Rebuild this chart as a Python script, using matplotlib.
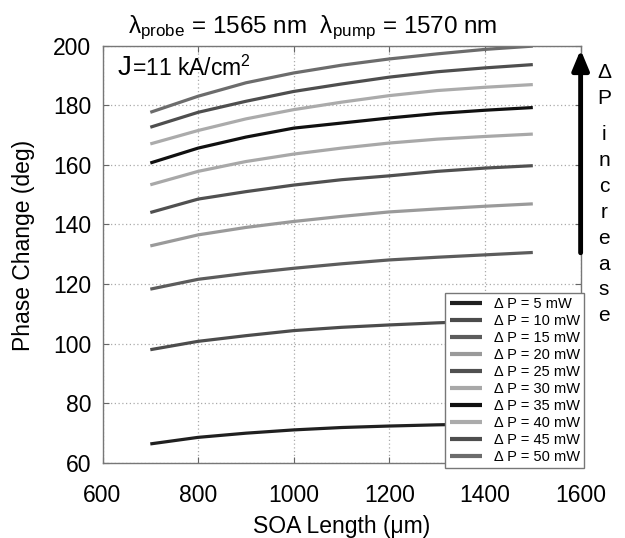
import matplotlib
matplotlib.use("Agg")
import matplotlib.pyplot as plt

plt.rcParams['font.family'] = ['Liberation Sans', 'DejaVu Sans']
plt.rcParams['mathtext.fontset'] = 'custom'
plt.rcParams['mathtext.rm'] = 'Liberation Sans'
plt.rcParams['mathtext.it'] = 'Liberation Sans:italic'
plt.rcParams['mathtext.bf'] = 'Liberation Sans:bold'

# ---- data ----
soa_length = [700, 800, 900, 1000, 1100, 1200, 1300, 1400, 1500]
p5 = [66.4, 68.6, 70.0, 71.1, 71.9, 72.4, 72.8, 73.1, 73.3]
p10 = [98.0, 100.8, 102.7, 104.4, 105.5, 106.3, 107.0, 107.6, 108.1]
p15 = [118.3, 121.6, 123.6, 125.3, 126.8, 128.1, 129.0, 129.8, 130.6]
p20 = [132.8, 136.5, 139.0, 141.0, 142.7, 144.2, 145.2, 146.1, 146.9]
p25 = [144.0, 148.5, 151.0, 153.2, 155.0, 156.3, 157.8, 158.9, 159.7]
p30 = [153.3, 157.8, 161.1, 163.6, 165.6, 167.3, 168.6, 169.5, 170.3]
p35 = [160.6, 165.6, 169.3, 172.3, 174.0, 175.7, 177.2, 178.3, 179.2]
p40 = [167.0, 171.5, 175.4, 178.5, 181.0, 183.2, 184.9, 186.0, 186.9]
p45 = [172.6, 177.6, 181.3, 184.6, 187.1, 189.4, 191.2, 192.5, 193.6]
p50 = [177.6, 183.0, 187.5, 190.8, 193.4, 195.5, 197.2, 198.7, 199.8]
series = [p5, p10, p15, p20, p25, p30, p35, p40, p45, p50]
labels = ['Δ P = 5 mW', 'Δ P = 10 mW', 'Δ P = 15 mW', 'Δ P = 20 mW', 'Δ P = 25 mW',
          'Δ P = 30 mW', 'Δ P = 35 mW', 'Δ P = 40 mW', 'Δ P = 45 mW', 'Δ P = 50 mW']
colors = ['#202020', '#4c4c4c', '#5c5c5c', '#9a9a9a', '#505050',
          '#a8a8a8', '#101010', '#ababab', '#4e4e4e', '#6c6c6c']
xticks = [600, 800, 1000, 1200, 1400, 1600]
yticks = [60, 80, 100, 120, 140, 160, 180, 200]

fig = plt.figure(figsize=(6.25, 5.38), dpi=100)
ax = fig.add_axes([0.164, 0.1394, 0.765, 0.776])

for ys, lab, col in zip(series, labels, colors):
    ax.plot(soa_length, ys, color=col, lw=2.3, label=lab, solid_capstyle='butt')

ax.set_xlim(600, 1600)
ax.set_ylim(60, 200)
ax.set_xticks(xticks)
ax.set_yticks(yticks)
ax.grid(True, linestyle=(0, (1, 2)), color='#aaaaaa', lw=0.9)
ax.tick_params(direction='in', length=4, labelsize=16.5, top=True, right=True,
               color='#666666')
ax.tick_params(axis='x', pad=15)
ax.tick_params(axis='y', pad=8)
for s in ax.spines.values():
    s.set_color('#777777')
    s.set_linewidth(1.0)

ax.set_xlabel('SOA Length (μm)', fontsize=16.5)
ax.xaxis.set_label_coords(0.5, -0.125)
ax.set_ylabel('Phase Change (deg)', fontsize=16.5)
ax.yaxis.set_label_coords(-0.141, 0.52)

leg = ax.legend(loc='lower right', bbox_to_anchor=(1.007, -0.012), fontsize=10.5,
                frameon=True, fancybox=False, framealpha=1, edgecolor='#777777',
                labelspacing=0.2, handlelength=2.2, handletextpad=0.8,
                borderpad=0.3, borderaxespad=0)
for h in leg.get_lines():
    h.set_linewidth(3)

fig.text(0.5, 0.948, r'λ$_{\mathrm{probe}}$ = 1565 nm  λ$_{\mathrm{pump}}$ = 1570 nm',
         fontsize=17.5, ha='center', va='center')

jt = ax.text(0.032, 0.978, 'J', transform=ax.transAxes, fontsize=20, ha='left', va='top')
ax.annotate('=11 kA/cm$^2$', xy=(1, 0), xycoords=jt, fontsize=16.5,
            ha='left', va='bottom')

ax.annotate('', xy=(1600, 198.6), xytext=(1600, 130.5), xycoords='data',
            arrowprops=dict(arrowstyle='-|>,head_length=1.2,head_width=0.5',
                            color='black', lw=3.5, shrinkA=0, shrinkB=0),
            annotation_clip=False)

fig.text(604 / 625, 1 - 63 / 538, 'Δ\nP', fontsize=15, ha='center', va='top',
         linespacing=1.45)
fig.text(604 / 625, 1 - 125 / 538, '\n'.join('increase'), fontsize=15,
         ha='center', va='top', linespacing=1.46)

fig.savefig('out.png', dpi=100)
